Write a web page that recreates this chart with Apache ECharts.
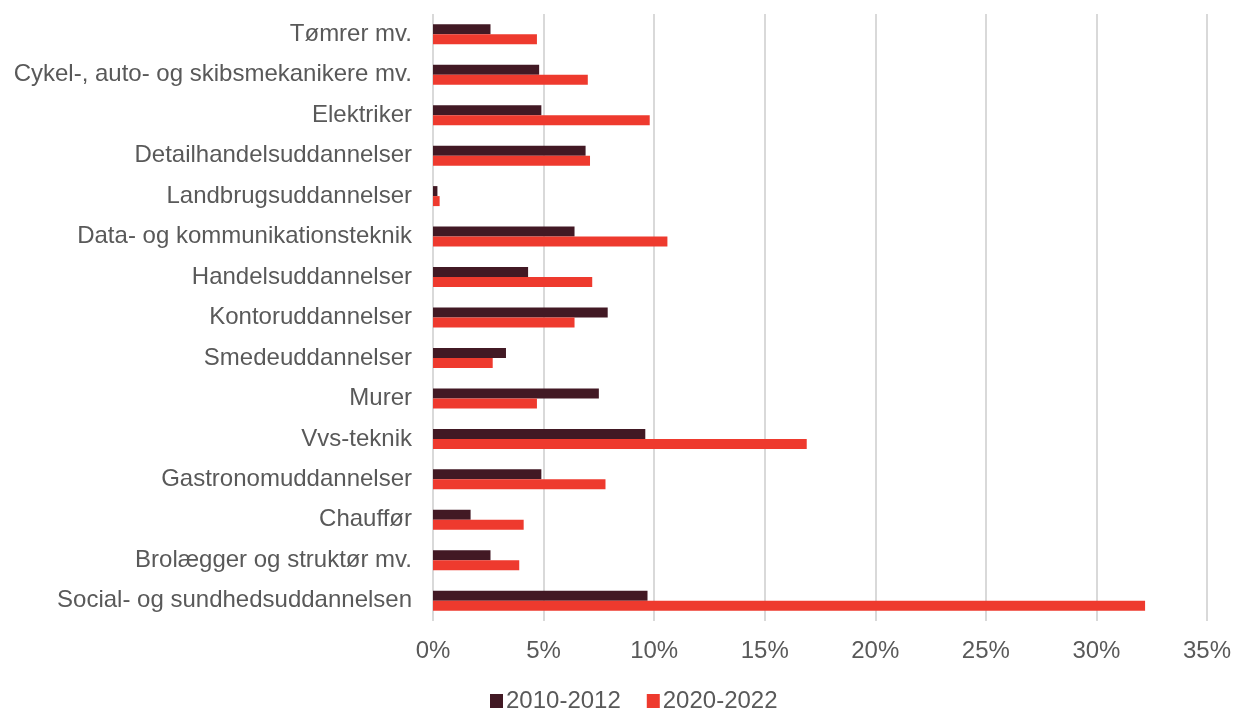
<!DOCTYPE html>
<html>
<head>
<meta charset="utf-8">
<script src="https://cdn.jsdelivr.net/npm/echarts@6/dist/echarts.min.js"></script>
<style>
  html, body { margin: 0; padding: 0; background: #fff; }
  #chart { width: 1237px; height: 710px; }
</style>
</head>
<body>
<div id="chart"></div>
<script>
const categories = [
  'Tømrer mv.',
  'Cykel-, auto- og skibsmekanikere mv.',
  'Elektriker',
  'Detailhandelsuddannelser',
  'Landbrugsuddannelser',
  'Data- og kommunikationsteknik',
  'Handelsuddannelser',
  'Kontoruddannelser',
  'Smedeuddannelser',
  'Murer',
  'Vvs-teknik',
  'Gastronomuddannelser',
  'Chauffør',
  'Brolægger og struktør mv.',
  'Social- og sundhedsuddannelsen'
];
const seriesNames = ['2010-2012', '2020-2022'];
const values2010 = [2.6, 4.8, 4.9, 6.9, 0.2, 6.4, 4.3, 7.9, 3.3, 7.5, 9.6, 4.9, 1.7, 2.6, 9.7];
const values2020 = [4.7, 7.0, 9.8, 7.1, 0.3, 10.6, 7.2, 6.4, 2.7, 4.7, 16.9, 7.8, 4.1, 3.9, 32.2];

const chart = echarts.init(document.getElementById('chart'));
const textColor = '#595959';
const font = 'Liberation Sans, Arial, sans-serif';

chart.setOption({
  animation: false,
  textStyle: { fontFamily: font },
  grid: { left: 433, right: 30, top: 14, height: 607 },
  legend: {
    top: 684,
    left: 485,
    itemWidth: 13,
    itemHeight: 14,
    itemGap: 26,
    icon: 'rect',
    textStyle: { color: textColor, fontSize: 24, fontFamily: font, padding: [0, 0, 0, -2] },
    data: seriesNames
  },
  xAxis: {
    type: 'value',
    min: 0,
    max: 35,
    interval: 5,
    axisLabel: { formatter: '{value}%', color: textColor, fontSize: 24, margin: 18 },
    axisLine: { show: false },
    axisTick: { show: false },
    splitLine: { show: true, lineStyle: { color: '#d9d9d9', width: 2 } }
  },
  yAxis: {
    type: 'category',
    inverse: true,
    data: categories,
    axisLabel: { color: textColor, fontSize: 24, margin: 21 },
    axisLine: { show: false },
    axisTick: { show: false }
  },
  series: [
    {
      name: seriesNames[0],
      type: 'bar',
      data: values2010,
      barWidth: 10,
      barGap: '0%',
      itemStyle: { color: '#421924' }
    },
    {
      name: seriesNames[1],
      type: 'bar',
      data: values2020,
      barWidth: 10,
      barGap: '0%',
      itemStyle: { color: '#EE3A2E' }
    }
  ]
});
</script>
</body>
</html>
